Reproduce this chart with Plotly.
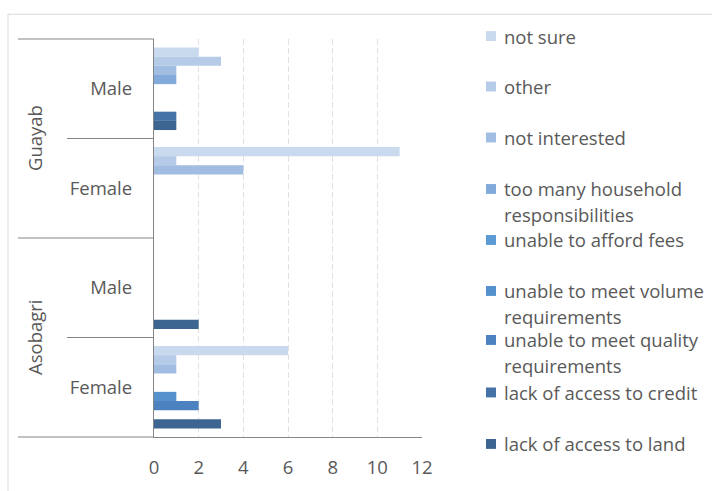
import plotly.graph_objects as go

# Respondent groups (outer level = organisation, inner level = gender)
sites = ["Guayab", "Guayab", "Asobagri", "Asobagri"]
genders = ["Male", "Female", "Male", "Female"]

# Reasons for not participating, counts per group (same order as above)
not_sure = [2, 11, 0, 6]
other = [3, 1, 0, 1]
not_interested = [1, 4, 0, 1]
household_responsibilities = [1, 0, 0, 0]
unable_afford_fees = [0, 0, 0, 0]
unable_volume = [0, 0, 0, 1]
unable_quality = [0, 0, 0, 2]
no_credit = [1, 0, 0, 0]
no_land = [1, 0, 2, 3]

x_ticks = [0, 2, 4, 6, 8, 10, 12]

series = [
    (["not sure"], not_sure, "#c9d9ee"),
    (["other"], other, "#b6cbe8"),
    (["not interested"], not_interested, "#a1bde2"),
    (["too many household", "responsibilities"], household_responsibilities, "#82abdc"),
    (["unable to afford fees"], unable_afford_fees, "#5b9bd5"),
    (["unable to meet volume", "requirements"], unable_volume, "#5591cc"),
    (["unable to meet quality", "requirements"], unable_quality, "#4c82bf"),
    (["lack of access to credit"], no_credit, "#4573a7"),
    (["lack of access to land"], no_land, "#3c6591"),
]

keys = [f"{s} {g}" for s, g in zip(sites, genders)]

W, H = 712, 491
ML, MR, MT, MB = 154, 290, 39, 50
PW, PH = W - ML - MR, H - MT - MB
TXT = "#595959"
FONT = "Open Sans"
FS = 18.5


def px_x(px):
    return (px - ML) / PW


def px_y(py):
    return (H - MB - py) / PH


fig = go.Figure()
for label, vals, color in series:
    fig.add_trace(go.Bar(
        y=keys, x=vals, orientation="h", name=" ".join(label),
        marker=dict(color=color, line=dict(width=0)),
        showlegend=False,
    ))

shapes = []
# outer chart border
shapes.append(dict(type="rect", xref="paper", yref="paper",
                   x0=px_x(8), x1=px_x(730), y0=px_y(510), y1=px_y(14),
                   line=dict(color="#d9d9d9", width=1), fillcolor="rgba(0,0,0,0)",
                   layer="below"))
# category dividers
axis_col = "#858585"
for yp, x_left in [(1.0, 18), (0.75, 67), (0.5, 18), (0.25, 67), (0.0, 18)]:
    shapes.append(dict(type="line", xref="paper", yref="paper",
                       x0=px_x(x_left), x1=0, y0=yp, y1=yp,
                       line=dict(color=axis_col, width=1.2)))

annotations = []
# outer group labels
for name, yp in [("Guayab", 0.75), ("Asobagri", 0.25)]:
    annotations.append(dict(text=name, xref="paper", yref="paper",
                            x=px_x(34.5), y=yp, textangle=-90, showarrow=False,
                            xanchor="center", yanchor="middle",
                            font=dict(family=FONT, size=FS, color=TXT)))

# legend
entry_y = [36, 87, 138.5, 190.5, 242, 293.5, 343, 396, 448]
for (label, vals, color), ey in zip(series, entry_y):
    shapes.append(dict(type="rect", xref="paper", yref="paper",
                       x0=px_x(486), x1=px_x(496), y0=px_y(ey + 5), y1=px_y(ey - 5),
                       line=dict(width=0), fillcolor=color))
    for i, line in enumerate(label):
        annotations.append(dict(text=line, xref="paper", yref="paper",
                                x=px_x(502), y=px_y(ey + 26 * i), showarrow=False,
                                xanchor="left", yanchor="middle",
                                font=dict(family=FONT, size=FS, color=TXT)))

fig.update_layout(
    width=W, height=H,
    margin=dict(l=ML, r=MR, t=MT, b=MB, pad=0),
    paper_bgcolor="white", plot_bgcolor="white",
    barmode="group", bargap=0.17, bargroupgap=0,
    font=dict(family=FONT, size=FS, color=TXT),
    xaxis=dict(range=[0, 12], tickmode="array", tickvals=x_ticks,
               ticktext=[str(v) for v in x_ticks],
               showgrid=True, gridcolor="#e2e2e2", griddash="6px,3px", gridwidth=1,
               showline=True, linecolor=axis_col, linewidth=1.2, zeroline=False,
               ticks="", ticklabelstandoff=14,
               tickfont=dict(family=FONT, size=FS, color=TXT)),
    yaxis=dict(type="category", categoryorder="array", categoryarray=keys,
               autorange="reversed", tickmode="array", tickvals=keys, ticktext=genders,
               showgrid=False, showline=True, linecolor=axis_col, linewidth=1.2,
               zeroline=False, ticks="", ticklabelstandoff=17,
               tickfont=dict(family=FONT, size=FS, color=TXT)),
    shapes=shapes,
    annotations=annotations,
)

fig.write_html("out.html")
